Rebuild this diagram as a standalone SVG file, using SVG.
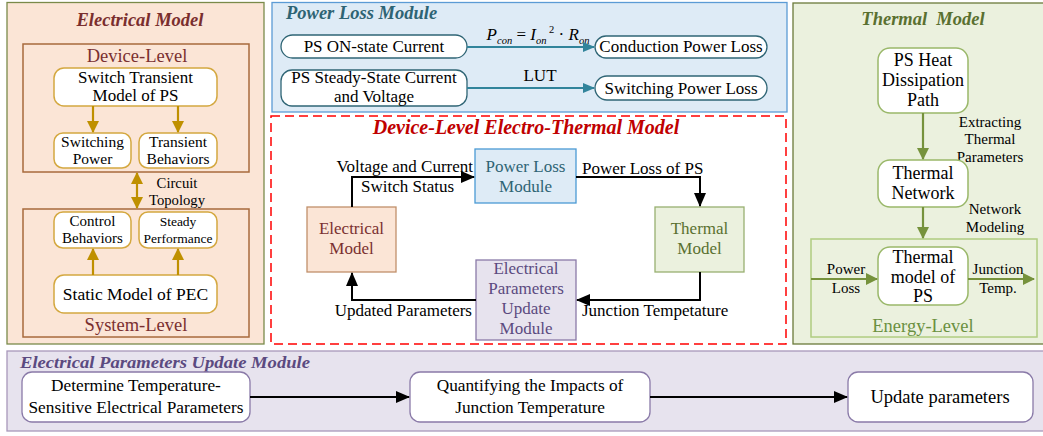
<svg xmlns="http://www.w3.org/2000/svg" width="1043" height="436" viewBox="0 0 1043 436" font-family="'Liberation Serif', 'Times New Roman', Times, serif">
<defs>
<style>
.c{text-anchor:middle;}
.f16{font-size:17px;}
.f14{font-size:15px;}
.ttl{font-weight:bold;font-style:italic;}
.gbox{fill:#fff;stroke:#d4a840;stroke-width:1.5;}
.garr{stroke:#bf9000;stroke-width:2.2;fill:none;}
.pbox{fill:#fff;stroke:#2f6575;stroke-width:1.3;}
.parr{stroke:#31849b;stroke-width:2;fill:none;}
.tbox{fill:#fff;stroke:#9ab86a;stroke-width:1.5;}
.tarr{stroke:#76923c;stroke-width:2.2;fill:none;}
.karr{stroke:#000;stroke-width:2;fill:none;}
.ubox{fill:#fff;stroke:#8a7aa8;stroke-width:1.3;}
</style>
<marker id="mg" markerUnits="userSpaceOnUse" markerWidth="12" markerHeight="12" refX="11" refY="6" orient="auto-start-reverse"><path d="M0,0L12,6L0,12z" fill="#bf9000"/></marker>
<marker id="mp" markerUnits="userSpaceOnUse" markerWidth="12" markerHeight="10" refX="11" refY="5" orient="auto"><path d="M0,0L12,5L0,10z" fill="#31849b"/></marker>
<marker id="mt" markerUnits="userSpaceOnUse" markerWidth="12" markerHeight="12" refX="11" refY="6" orient="auto"><path d="M0,0L12,6L0,12z" fill="#76923c"/></marker>
<marker id="mk" markerUnits="userSpaceOnUse" markerWidth="14" markerHeight="12" refX="13" refY="6" orient="auto"><path d="M0,0L14,6L0,12z" fill="#000"/></marker>
</defs>

<!-- Panels -->
<g id="electrical-model-panel">
<rect x="7" y="2.5" width="257" height="341.5" fill="#fbe5d6" stroke="#7a8a4a" stroke-width="1.3"/>
<text x="140" y="26" class="c ttl" font-size="18.5" fill="#7a2e2e">Electrical Model</text>
<rect x="23" y="44" width="226" height="128" fill="none" stroke="#a86a3c" stroke-width="1.5"/>
<text x="137" y="62" class="c" font-size="18.5" fill="#7a3030">Device-Level</text>
<rect x="23" y="209" width="226" height="128" fill="none" stroke="#a86a3c" stroke-width="1.5"/>
<text x="136" y="331" class="c" font-size="18.5" fill="#7a3030">System-Level</text>
<text x="177" y="188" class="c" font-size="14.7">Circuit</text>
<text x="177" y="205" class="c" font-size="14.7">Topology</text>
</g>
<g id="n-switch-transient">
<rect x="54" y="68" width="163" height="38" rx="10" class="gbox"/>
<text x="135.5" y="83" class="c f16">Switch Transient</text>
<text x="135.5" y="101" class="c f16">Model of PS</text>
</g>
<g id="n-switching-power">
<rect x="54" y="133" width="77" height="35" rx="9" class="gbox"/>
<text x="92.5" y="147" class="c" font-size="15.5">Switching</text>
<text x="92.5" y="164" class="c" font-size="15.5">Power</text>
</g>
<g id="n-transient-behaviors">
<rect x="139" y="133" width="78" height="35" rx="9" class="gbox"/>
<text x="178" y="147" class="c" font-size="15.5">Transient</text>
<text x="178" y="164" class="c" font-size="15.5">Behaviors</text>
</g>
<g id="n-control-behaviors">
<rect x="54" y="212" width="77" height="36" rx="9" class="gbox"/>
<text x="92.5" y="226" class="c f14">Control</text>
<text x="92.5" y="243" class="c f14">Behaviors</text>
</g>
<g id="n-steady-performance">
<rect x="139" y="212" width="78" height="36" rx="9" class="gbox"/>
<text x="178" y="226" class="c" font-size="13.5">Steady</text>
<text x="178" y="243" class="c" font-size="13.5">Performance</text>
</g>
<g id="n-static-model">
<rect x="54" y="275" width="163" height="38" rx="10" class="gbox"/>
<text x="135.5" y="300" class="c" font-size="17.5">Static Model of PEC</text>
</g>

<g id="power-loss-panel">
<rect x="272" y="2.5" width="515" height="109.5" fill="#deebf6" stroke="#5b9bd5" stroke-width="1.3"/>
<text x="286" y="19" class="ttl" font-size="18.5" fill="#2e6474">Power Loss Module</text>
<text x="538" y="40" class="c" font-size="17"><tspan font-style="italic">P</tspan><tspan font-size="10.5" font-style="italic" dy="4">con</tspan><tspan dy="-4"> = </tspan><tspan font-style="italic">I</tspan><tspan font-size="10.5" font-style="italic" dy="4">on</tspan><tspan font-size="10.5" dy="-11"> 2</tspan><tspan dy="7"> · </tspan><tspan font-style="italic">R</tspan><tspan font-size="10.5" font-style="italic" dy="4">on</tspan></text>
<text x="540" y="81" class="c f16">LUT</text>
</g>
<g id="n-ps-on-current">
<rect x="281" y="35" width="186" height="23" rx="11.5" class="pbox"/>
<text x="374" y="52" class="c f16">PS ON-state Current</text>
</g>
<g id="n-ps-steady">
<rect x="281" y="70" width="186" height="36" rx="11" class="pbox"/>
<text x="374" y="83" class="c f16">PS Steady-State Current</text>
<text x="374" y="102" class="c f16">and Voltage</text>
</g>
<g id="n-conduction-loss">
<rect x="595" y="36" width="172" height="22" rx="11" class="pbox"/>
<text x="681" y="52" class="c f16">Conduction Power Loss</text>
</g>
<g id="n-switching-loss">
<rect x="595" y="76" width="172" height="24" rx="12" class="pbox"/>
<text x="681" y="94" class="c f16">Switching Power Loss</text>
</g>

<g id="electro-thermal-panel">
<rect x="271" y="116" width="515" height="228" fill="#fff" stroke="#ff0000" stroke-width="1.5" stroke-dasharray="9,5"/>
<text x="526" y="134" class="c ttl" font-size="20" fill="#c00000">Device-Level Electro-Thermal Model</text>
<text x="473" y="172" font-size="17" text-anchor="end">Voltage and Current</text>
<text x="361" y="192" font-size="17">Switch Status</text>
<text x="582" y="174" font-size="17">Power Loss of PS</text>
<text x="582" y="316" font-size="17">Junction Tempetature</text>
<text x="472" y="316" font-size="17" text-anchor="end">Updated Parameters</text>
</g>
<g id="n-plm">
<rect x="475" y="149" width="101" height="54" fill="#deebf6" stroke="#4a9ad4" stroke-width="1.3"/>
<text x="525.5" y="172" class="c f16" fill="#2e6474">Power Loss</text>
<text x="525.5" y="192" class="c f16" fill="#2e6474">Module</text>
</g>
<g id="n-em">
<rect x="307" y="207" width="89" height="65" fill="#fbe5d6" stroke="#c0906a" stroke-width="1.3"/>
<text x="351.5" y="234" class="c f16" fill="#7a3030">Electrical</text>
<text x="351.5" y="254" class="c f16" fill="#7a3030">Model</text>
</g>
<g id="n-tm">
<rect x="655" y="207" width="89" height="65" fill="#ebf1de" stroke="#98b070" stroke-width="1.3"/>
<text x="699.5" y="234" class="c f16" fill="#5a7030">Thermal</text>
<text x="699.5" y="254" class="c f16" fill="#5a7030">Model</text>
</g>
<g id="n-epum">
<rect x="476" y="260" width="100" height="80" fill="#e7e3ee" stroke="#8a7aa8" stroke-width="1.3"/>
<text x="526" y="274" class="c f16" fill="#5b4a80">Electrical</text>
<text x="526" y="294" class="c f16" fill="#5b4a80">Parameters</text>
<text x="526" y="314" class="c f16" fill="#5b4a80">Update</text>
<text x="526" y="334" class="c f16" fill="#5b4a80">Module</text>
</g>

<g id="thermal-model-panel">
<rect x="793" y="3" width="252" height="341" fill="#ebf1de" stroke="#6b7a3a" stroke-width="1.3"/>
<text x="923" y="25" class="c ttl" font-size="18.5" fill="#5a7030" xml:space="preserve">Thermal  Model</text>
<rect x="811" y="239" width="226" height="98" fill="none" stroke="#b0cc80" stroke-width="1.5"/>
<text x="923" y="332" class="c" font-size="18.5" fill="#6a9040">Energy-Level</text>
<text x="990" y="127" class="c f14">Extracting</text>
<text x="990" y="144" class="c f14">Thermal</text>
<text x="990" y="162" class="c f14">Parameters</text>
<text x="995" y="214" class="c f14">Network</text>
<text x="995" y="232" class="c f14">Modeling</text>
<text x="846" y="274" class="c f14">Power</text>
<text x="846" y="293" class="c f14">Loss</text>
<text x="998" y="274" class="c f14">Junction</text>
<text x="998" y="293" class="c f14">Temp.</text>
</g>
<g id="n-heat-path">
<rect x="878" y="48" width="90" height="65" rx="12" class="tbox"/>
<text x="923" y="66" class="c" font-size="18">PS Heat</text>
<text x="923" y="86" class="c" font-size="18">Dissipation</text>
<text x="923" y="106" class="c" font-size="18">Path</text>
</g>
<g id="n-thermal-network">
<rect x="878" y="160" width="90" height="47" rx="12" class="tbox"/>
<text x="923" y="179" class="c" font-size="18">Thermal</text>
<text x="923" y="199" class="c" font-size="18">Network</text>
</g>
<g id="n-thermal-model-ps">
<rect x="878" y="247" width="90" height="58" rx="12" class="tbox"/>
<text x="923" y="263" class="c" font-size="18">Thermal</text>
<text x="923" y="283" class="c" font-size="18">model of</text>
<text x="923" y="302" class="c" font-size="18">PS</text>
</g>

<g id="epum-panel">
<rect x="7" y="351" width="1040" height="80" fill="#e7e3ee" stroke="#a898bb" stroke-width="1.3"/>
<text x="20" y="368" class="ttl" font-size="16.5" fill="#5b4a80" textLength="290" lengthAdjust="spacingAndGlyphs">Electrical Parameters Update Module</text>
</g>
<g id="n-determine">
<rect x="22" y="372" width="228" height="50" rx="10" class="ubox"/>
<text x="136" y="391" class="c" font-size="17.3">Determine Temperature-</text>
<text x="136" y="413" class="c" font-size="17.3">Sensitive Electrical Parameters</text>
</g>
<g id="n-quantify">
<rect x="410" y="372" width="240" height="50" rx="10" class="ubox"/>
<text x="530" y="391" class="c" font-size="17.3">Quantifying the Impacts of</text>
<text x="530" y="413" class="c" font-size="17.3">Junction Temperature</text>
</g>
<g id="n-update">
<rect x="848" y="372" width="185" height="50" rx="10" class="ubox"/>
<text x="940" y="403" class="c" font-size="18.5">Update parameters</text>
</g>

<g id="connectors">
<line x1="93" y1="106" x2="93" y2="132" class="garr" marker-end="url(#mg)"/>
<line x1="178" y1="106" x2="178" y2="132" class="garr" marker-end="url(#mg)"/>
<line x1="137" y1="173" x2="137" y2="208" class="garr" marker-start="url(#mg)" marker-end="url(#mg)"/>
<line x1="93" y1="275" x2="93" y2="249" class="garr" marker-end="url(#mg)"/>
<line x1="178" y1="275" x2="178" y2="249" class="garr" marker-end="url(#mg)"/>
<line x1="467" y1="47" x2="594" y2="47" class="parr" marker-end="url(#mp)"/>
<line x1="467" y1="88" x2="594" y2="88" class="parr" marker-end="url(#mp)"/>
<polyline points="352,207 352,177 474,177" class="karr" marker-end="url(#mk)"/>
<polyline points="576,177 700,177 700,206" class="karr" marker-end="url(#mk)"/>
<polyline points="700,272 700,300 577,300" class="karr" marker-end="url(#mk)"/>
<polyline points="476,300 352,300 352,273" class="karr" marker-end="url(#mk)"/>
<line x1="923" y1="113" x2="923" y2="159" class="tarr" marker-end="url(#mt)"/>
<line x1="923" y1="207" x2="923" y2="238" class="tarr" marker-end="url(#mt)"/>
<line x1="811" y1="279" x2="877" y2="279" class="tarr" marker-end="url(#mt)"/>
<line x1="968" y1="279" x2="1034" y2="279" class="tarr" marker-end="url(#mt)"/>
<line x1="250" y1="397" x2="409" y2="397" class="karr" marker-end="url(#mk)"/>
<line x1="650" y1="397" x2="847" y2="397" class="karr" marker-end="url(#mk)"/>
</g>
</svg>
